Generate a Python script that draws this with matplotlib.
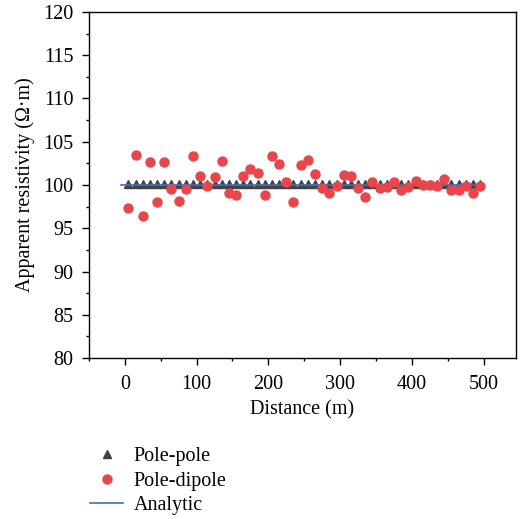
import matplotlib
matplotlib.use("Agg")
import matplotlib.pyplot as plt
import numpy as np
from matplotlib.ticker import MultipleLocator

plt.rcParams['font.family'] = ['Liberation Serif', 'DejaVu Serif']

# Data
distance = [5, 15, 25, 35, 45, 55, 65, 75, 85, 95,
            105, 115, 125, 135, 145, 155, 165, 175, 185, 195,
            205, 215, 225, 235, 245, 255, 265, 275, 285, 295,
            305, 315, 325, 335, 345, 355, 365, 375, 385, 395,
            405, 415, 425, 435, 445, 455, 465, 475, 485, 495]
pole_pole = [100.1] * 50
pole_dipole = [97.3, 103.5, 96.4, 102.7, 98.0, 102.7, 99.5, 98.1, 99.5, 103.3,
               101.1, 99.9, 100.9, 102.8, 99.1, 98.9, 101.1, 101.8, 101.4, 98.9,
               103.4, 102.4, 100.3, 98.0, 102.3, 102.9, 101.3, 99.7, 99.1, 99.9,
               101.2, 101.0, 99.6, 98.6, 100.4, 99.7, 99.8, 100.4, 99.4, 99.8,
               100.5, 100.0, 100.0, 99.9, 100.7, 99.4, 99.4, 99.9, 99.1, 99.9]
analytic_x = [-5, 490]
analytic_y = [100, 100]

FS = 14.5

fig = plt.figure(figsize=(5.26, 5.19), dpi=100)
ax = fig.add_axes([0.169, 0.310, 0.812, 0.667])

ax.plot(distance, pole_pole, linestyle='none', marker='^', markersize=6,
        color='#434343', label='Pole-pole', zorder=2)
ax.plot(analytic_x, analytic_y, color='#3B6FC4', linewidth=1.2,
        label='Analytic', zorder=3)
ax.plot(distance, pole_dipole, linestyle='none', marker='o', markersize=6.5,
        color='#E8464B', label='Pole-dipole', zorder=4)

ax.set_xlim(-50, 545)
ax.set_ylim(80, 120)
ax.xaxis.set_major_locator(MultipleLocator(100))
ax.xaxis.set_minor_locator(MultipleLocator(50))
ax.yaxis.set_major_locator(MultipleLocator(5))
ax.yaxis.set_minor_locator(MultipleLocator(2.5))
ax.tick_params(which='major', direction='out', length=5, width=1, labelsize=FS)
ax.tick_params(axis='x', which='major', pad=7)
ax.tick_params(axis='y', which='major', pad=6)
ax.tick_params(which='minor', direction='out', length=2.5, width=1)
for s in ax.spines.values():
    s.set_linewidth(1)

ax.set_xlabel('Distance (m)', fontsize=FS, labelpad=5)
ax.set_ylabel('Apparent resistivity (Ω·m)', fontsize=FS, labelpad=6)

handles, labels = ax.get_legend_handles_labels()
order = [0, 2, 1]
fig.legend([handles[i] for i in order], [labels[i] for i in order],
           loc='upper left', bbox_to_anchor=(90 / 526, 1 - 447 / 519),
           frameon=False, fontsize=FS, borderpad=0, borderaxespad=0,
           handlelength=1.65, handletextpad=0.5, labelspacing=0.27)

fig.savefig('out.png', dpi=100)
